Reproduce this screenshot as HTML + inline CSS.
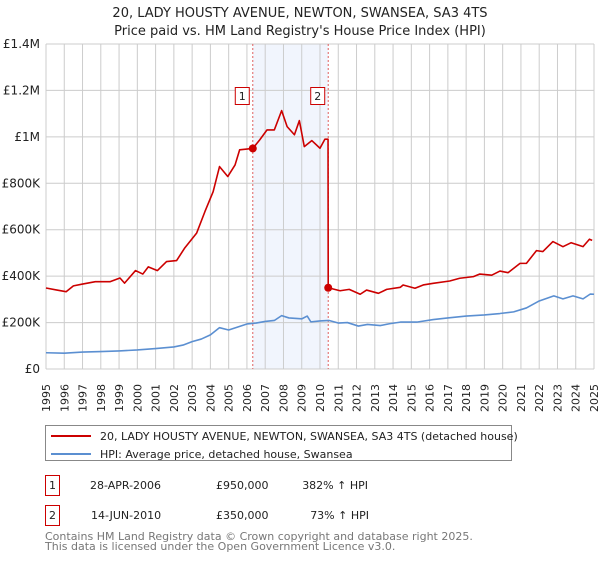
<!DOCTYPE html>
<html><head><meta charset="utf-8"><style>
body{margin:0;background:#fff;font-family:"DejaVu Sans","Liberation Sans",sans-serif;}
svg text{font-family:"DejaVu Sans","Liberation Sans",sans-serif;}
</style></head><body>
<svg id="chart" width="600" height="560" viewBox="0 0 600 560" xmlns="http://www.w3.org/2000/svg">
<text x="300" y="17" font-size="13" text-anchor="middle" fill="#222">20, LADY HOUSTY AVENUE, NEWTON, SWANSEA, SA3 4TS</text>
<text x="300" y="35" font-size="13" text-anchor="middle" fill="#222">Price paid vs. HM Land Registry's House Price Index (HPI)</text>
<g id="grid"></g>
<g id="marks"></g>
<g>
<rect x="45.5" y="425.5" width="466" height="35" fill="#fff" stroke="#888"/>
<line x1="51" y1="436" x2="91" y2="436" stroke="#cc0000" stroke-width="2"/>
<text x="100" y="440" font-size="11" fill="#222">20, LADY HOUSTY AVENUE, NEWTON, SWANSEA, SA3 4TS (detached house)</text>
<line x1="51" y1="454" x2="91" y2="454" stroke="#5b8fd1" stroke-width="2"/>
<text x="100" y="458" font-size="11" fill="#222">HPI: Average price, detached house, Swansea</text>
</g>
<g>
<rect x="45.5" y="475.5" width="14" height="20" fill="#fff" stroke="#cc0000"/>
<text x="52.5" y="489" font-size="11" text-anchor="middle" fill="#222">1</text>
<text x="90" y="489" font-size="11" fill="#222">28-APR-2006</text>
<text x="216" y="489" font-size="11" fill="#222">£950,000</text>
<text x="368" y="489" font-size="11" text-anchor="end" fill="#222">382% ↑ HPI</text>
<rect x="45.5" y="505.5" width="14" height="20" fill="#fff" stroke="#cc0000"/>
<text x="52.5" y="519" font-size="11" text-anchor="middle" fill="#222">2</text>
<text x="91" y="519" font-size="11" fill="#222">14-JUN-2010</text>
<text x="216" y="519" font-size="11" fill="#222">£350,000</text>
<text x="369" y="519" font-size="11" text-anchor="end" fill="#222">73% ↑ HPI</text>
</g>
<text x="45" y="540" font-size="11" fill="#777">Contains HM Land Registry data © Crown copyright and database right 2025.</text>
<text x="45" y="550" font-size="11" fill="#777">This data is licensed under the Open Government Licence v3.0.</text>
</svg>
<script>
const yTicks=[0,200000,400000,600000,800000,1000000,1200000,1400000];
const yTickLabels=["£0","£200K","£400K","£600K","£800K","£1M","£1.2M","£1.4M"];
const years=[1995,1996,1997,1998,1999,2000,2001,2002,2003,2004,2005,2006,2007,2008,2009,2010,2011,2012,2013,2014,2015,2016,2017,2018,2019,2020,2021,2022,2023,2024,2025];
const hpiT=[1995,1996,1997,1998,1999,2000,2001,2002,2002.5,2003,2003.5,2004,2004.5,2005,2005.5,2006,2006.5,2007,2007.5,2007.9,2008.3,2009,2009.3,2009.5,2010,2010.5,2011,2011.5,2012.1,2012.6,2013.3,2013.8,2014.4,2015.3,2016.2,2017,2018,2019,2019.85,2020.6,2021.3,2022,2022.8,2023.3,2023.85,2024.4,2024.8,2025];
const hpiV=[70000,68000,73000,75000,78000,82000,88000,95000,103000,118000,129000,147000,178000,168000,181000,194000,198000,205000,209000,230000,220000,216000,228000,203000,207000,209000,198000,200000,185000,192000,187000,195000,202000,202000,213000,220000,228000,233000,239000,246000,263000,293000,315000,302000,315000,302000,323000,322000];
const priceT=[1995,1995.6,1996.1,1996.5,1997,1997.7,1998.5,1999.05,1999.3,1999.9,2000.3,2000.6,2001.1,2001.6,2002.15,2002.6,2003.25,2003.7,2004.15,2004.5,2004.95,2005.35,2005.6,2006.32,2006.7,2007.1,2007.5,2007.9,2008.2,2008.6,2008.87,2009.14,2009.55,2010,2010.27,2010.44,2010.45,2011.1,2011.6,2012.2,2012.55,2013.2,2013.65,2014.4,2014.55,2015.2,2015.65,2016.2,2017.1,2017.65,2018.4,2018.75,2019.4,2019.85,2020.3,2020.95,2021.3,2021.85,2022.2,2022.75,2023.3,2023.75,2024.4,2024.75,2024.9];
const priceV=[349000,340000,333000,358000,366000,376000,376000,392000,370000,424000,409000,440000,424000,463000,467000,522000,586000,678000,764000,872000,829000,879000,944000,950000,987000,1030000,1030000,1113000,1044000,1009000,1070000,958000,984000,951000,990000,990000,350000,337000,343000,322000,340000,326000,343000,352000,362000,348000,362000,369000,379000,391000,398000,409000,404000,422000,415000,455000,455000,510000,506000,549000,527000,544000,527000,559000,554000];
const saleT=[2006.32,2010.45];
const saleV=[950000,350000];
const saleLabels=["1","2"];
const NS="http://www.w3.org/2000/svg";
const X0=46,X1=594,Y0=369,Y1=44;
const xs=t=>X0+(t-1995)/(2025-1995)*(X1-X0);
const ys=v=>Y0-v/1400000*(Y0-Y1);
function mk(tag,attrs,parent){const e=document.createElementNS(NS,tag);for(const k in attrs)e.setAttribute(k,attrs[k]);parent.appendChild(e);return e;}
const grid=document.getElementById('grid'),marks=document.getElementById('marks');
const band=mk('rect',{x:xs(saleT[0]),y:Y1,width:xs(saleT[1])-xs(saleT[0]),height:Y0-Y1,fill:'#eef3fc',opacity:0.8},grid);


years.forEach(y=>{
  const l=mk('line',{x1:xs(y),x2:xs(y),y1:Y1,y2:Y0,stroke:'#cccccc','stroke-width':1},grid);
  
  
  const t=mk('text',{x:0,y:0,'font-size':11,fill:'#222','text-anchor':'end',transform:`translate(${xs(y)+4},${Y0+15}) rotate(-90)`},grid);
  t.textContent=y;
  
  
});
yTicks.forEach((v,i)=>{
  const l=mk('line',{x1:X0,x2:X1,y1:ys(v),y2:ys(v),stroke:'#cccccc','stroke-width':1},grid);
  
  
  const t=mk('text',{x:X0-6,y:ys(v)+4,'font-size':12,fill:'#222','text-anchor':'end'},grid);
  t.textContent=yTickLabels[i];
  
  
});
saleT.forEach((t,i)=>{
  const l=mk('line',{x1:xs(t),x2:xs(t),y1:Y1,y2:Y0,stroke:'#e06060','stroke-width':1,'stroke-dasharray':'2,2'},grid);
  
  
  const r=mk('rect',{x:xs(t)-17.5,y:87.5,width:14,height:17,fill:'#fff',stroke:'#cc0000'},grid);
  
  
  const tx=mk('text',{x:xs(t)-10.5,y:100,'font-size':11,'text-anchor':'middle',fill:'#222'},grid);
  tx.textContent=saleLabels[i];
  
  
});
const hp=mk('polyline',{points:hpiT.map((t,i)=>xs(t)+','+ys(hpiV[i])).join(' '),fill:'none',stroke:'#5b8fd1','stroke-width':1.6,'stroke-linejoin':'round'},marks);


const pp=mk('polyline',{points:priceT.map((t,i)=>xs(t)+','+ys(priceV[i])).join(' '),fill:'none',stroke:'#cc0000','stroke-width':1.6,'stroke-linejoin':'round'},marks);


saleT.forEach((t,i)=>{
  const c=mk('circle',{cx:xs(t),cy:ys(saleV[i]),r:4,fill:'#cc0000'},marks);
  
  
});
</script>
</body></html>
